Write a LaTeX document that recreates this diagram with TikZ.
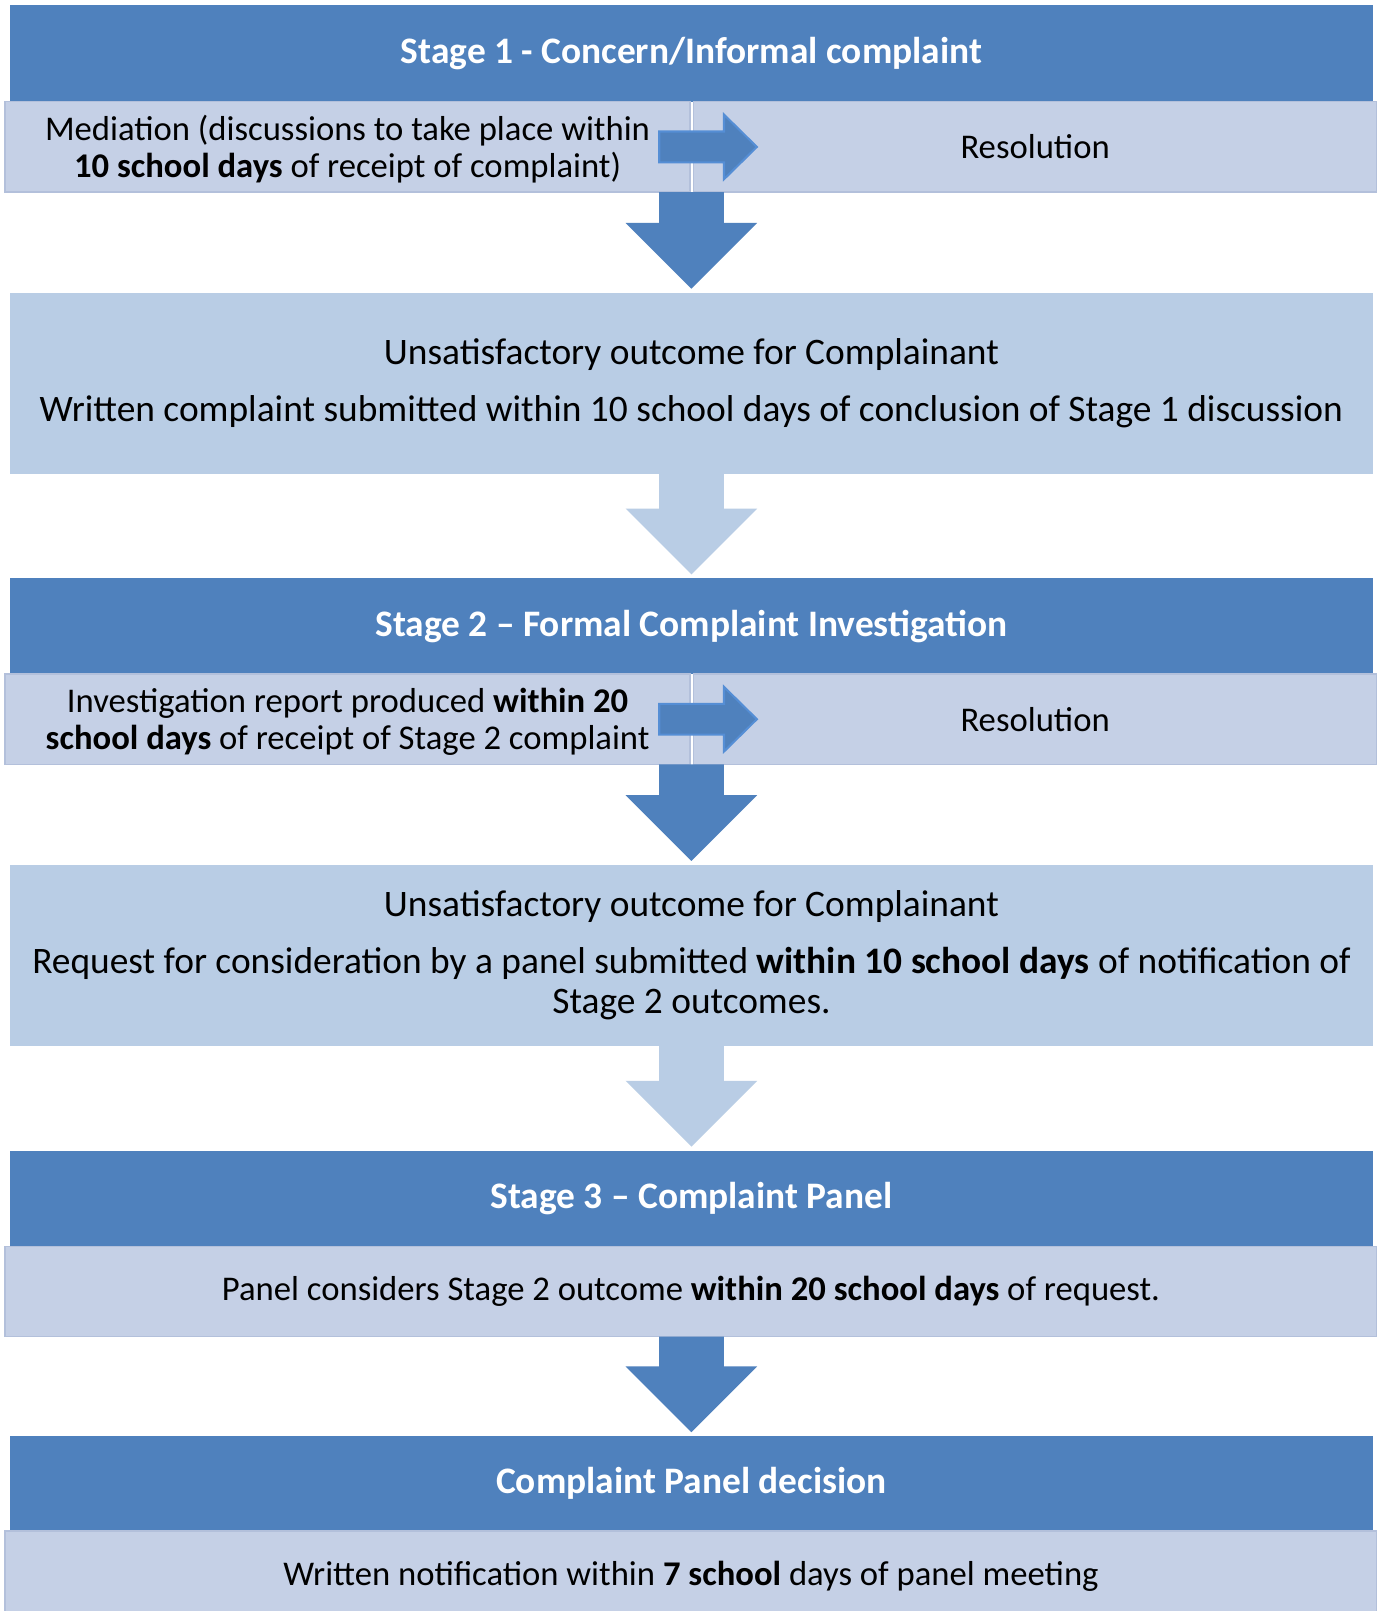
\documentclass[tikz,border=0pt]{standalone}
\usepackage{fontspec}
\setmainfont{Carlito}
\usetikzlibrary{calc}
\definecolor{hdr}{HTML}{4F81BD}
\definecolor{rowc}{HTML}{C5D0E6}
\definecolor{rowline}{HTML}{B3C0DB}
\definecolor{boxc}{HTML}{B9CDE5}
\definecolor{arrline}{HTML}{558ED5}
\newcommand{\flowdown}[3]{%
  \fill[#1] let \p1=(#2.south), \p2=(#3.north) in
   (\x2-23.6pt,\y1) -- (\x2+23.6pt,\y1) -- (\x2+23.6pt,\y2+51pt) -- (\x2+48pt,\y2+51pt)
   -- (\x2,\y2+3pt) -- (\x2-48pt,\y2+51pt) -- (\x2-23.6pt,\y2+51pt) -- cycle;}
\newcommand{\flowright}[2]{%
  \filldraw[fill=hdr,draw=arrline,line width=1.5pt,line join=miter] let \p1=(#1.east), \p2=(#2.west) in
   (\x1-22.5pt,\y1+11.25pt) -- (\x1+24.75pt,\y1+11.25pt) -- (\x1+24.75pt,\y1+23.6pt)
   -- (\x1+48.75pt,\y1) -- (\x1+24.75pt,\y1-23.6pt) -- (\x1+24.75pt,\y1-11.25pt)
   -- (\x1-22.5pt,\y1-11.25pt) -- cycle;}
\begin{document}
\begin{tikzpicture}[x=0.75pt,y=-0.75pt,
  every node/.style={inner sep=0pt,outer sep=0pt,align=center,font=\fontsize{25.3}{27}\selectfont},
  header/.style={fill=hdr,text=white,font=\fontsize{27.3}{29}\selectfont\bfseries,anchor=north west,minimum width=994.5pt},
  rowbox/.style={fill=rowc,draw=rowline,line width=1pt,anchor=north west,minimum height=66pt},
  bigbox/.style={fill=boxc,anchor=north west,minimum width=994.5pt,minimum height=132pt,font=\fontsize{27.3}{29.3}\selectfont}]
\useasboundingbox (0,0) rectangle (1344,1568);
\fill[white] (0,0) rectangle (1344,1568);
% Stage 1
\node[header,minimum height=70.5pt] (h1) at (10,5) {Stage 1 - Concern/Informal complaint};
\node[rowbox,minimum width=500pt] (r1L) at (5,99) {};
\node (r1Lt) at ([yshift=-1.5pt]r1L.center) {Mediation (discussions to take place within\\\textbf{10 school days} of receipt of complaint)};
\node[rowbox,minimum width=498.75pt] (r1R) at (675,99) {Resolution};
\node[bigbox] (b2) at (10,285) {Unsatisfactory outcome for Complainant\\[12pt]Written complaint submitted within 10 school days of conclusion of Stage 1 discussion};
% Stage 2
\node[header,minimum height=69.75pt] (h2) at (10,563) {Stage 2 -- Formal Complaint Investigation};
\node[rowbox,minimum width=500pt] (r2L) at (5,656) {};
\node (r2Lt) at ([yshift=-2.25pt]r2L.center) {Investigation report produced \textbf{within 20}\\\textbf{school days} of receipt of Stage 2 complaint};
\node[rowbox,minimum width=498.75pt] (r2R) at (675,656) {Resolution};
\node[bigbox] (b4) at (10,842) {Unsatisfactory outcome for Complainant\\[12pt]Request for consideration by a panel submitted \textbf{within 10 school days} of notification of\\Stage 2 outcomes.};
% Stage 3
\node[header,minimum height=69.75pt] (h3) at (10,1120) {Stage 3 -- Complaint Panel};
\node[rowbox,minimum width=1001.25pt] (r3) at (5,1213) {Panel considers Stage 2 outcome \textbf{within 20 school days} of request.};
% Decision
\node[header,minimum height=69pt] (h4) at (10,1398) {Complaint Panel decision};
\node[rowbox,minimum width=1001.25pt] (r4) at (5,1490) {Written notification within \textbf{7 school} days of panel meeting};
% connectors
\flowright{r1L}{r1R}
\flowright{r2L}{r2R}
\flowdown{hdr}{r1L}{b2}
\flowdown{boxc}{b2}{h2}
\flowdown{hdr}{r2L}{b4}
\flowdown{boxc}{b4}{h3}
\flowdown{hdr}{r3}{h4}
\end{tikzpicture}
\end{document}
